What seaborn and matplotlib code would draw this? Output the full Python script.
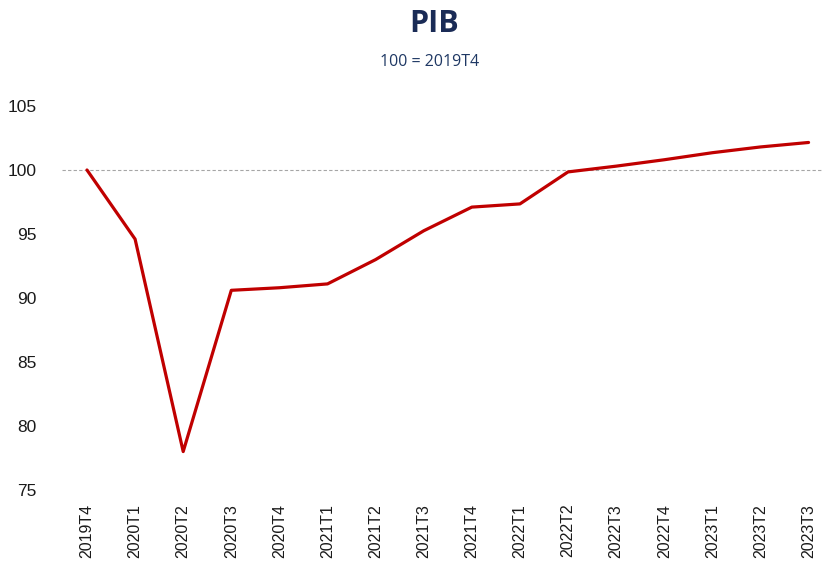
import matplotlib
matplotlib.use("Agg")
import matplotlib.pyplot as plt
import seaborn as sns
import pandas as pd

quarters = ["2019T4", "2020T1", "2020T2", "2020T3", "2020T4", "2021T1", "2021T2",
            "2021T3", "2021T4", "2022T1", "2022T2", "2022T3", "2022T4", "2023T1",
            "2023T2", "2023T3"]
pib = [100.0, 94.6, 78.0, 90.6, 90.8, 91.1, 93.0, 95.25, 97.1, 97.35, 99.85,
       100.3, 100.8, 101.35, 101.8, 102.15]
yticks = [75, 80, 85, 90, 95, 100, 105]

sns.set_theme(style="white")
plt.rcParams['font.family'] = ['Liberation Sans', 'DejaVu Sans']

df = pd.DataFrame({"q": range(len(quarters)), "pib": pib})

fig = plt.figure(figsize=(8.23, 5.72), dpi=100)
ax = fig.add_axes([0.0753, 0.1434, 0.9247, 0.6713])

ax.axhline(100, color="#a6a6a6", lw=0.8, ls=(0, (3, 2)), zorder=1)
sns.lineplot(data=df, x="q", y="pib", ax=ax, color="#C00000", lw=2.3, zorder=3)

ax.set_xlim(-0.52, 15.3)
ax.set_ylim(75, 105)
ax.set_yticks(yticks)
ax.set_yticklabels([str(v) for v in yticks], fontsize=12.5, color="#1a1a1a")
ax.set_xticks(range(len(quarters)))
ax.set_xticklabels(quarters, rotation=90, fontsize=11.5, color="#1a1a1a")
ax.tick_params(axis="both", length=0, pad=10)
ax.tick_params(axis="y", pad=18)
ax.set_xlabel("")
ax.set_ylabel("")
for s in ax.spines.values():
    s.set_visible(False)

fig.text(0.527, 0.958, "PIB", ha="center", va="center", fontsize=22,
         fontweight="bold", color="#1a2b56", family="Open Sans")
fig.text(0.522, 0.891, "100 = 2019T4", ha="center", va="center", fontsize=11.5,
         color="#1f3864", family="Open Sans")

fig.savefig("out.png", dpi=100)
